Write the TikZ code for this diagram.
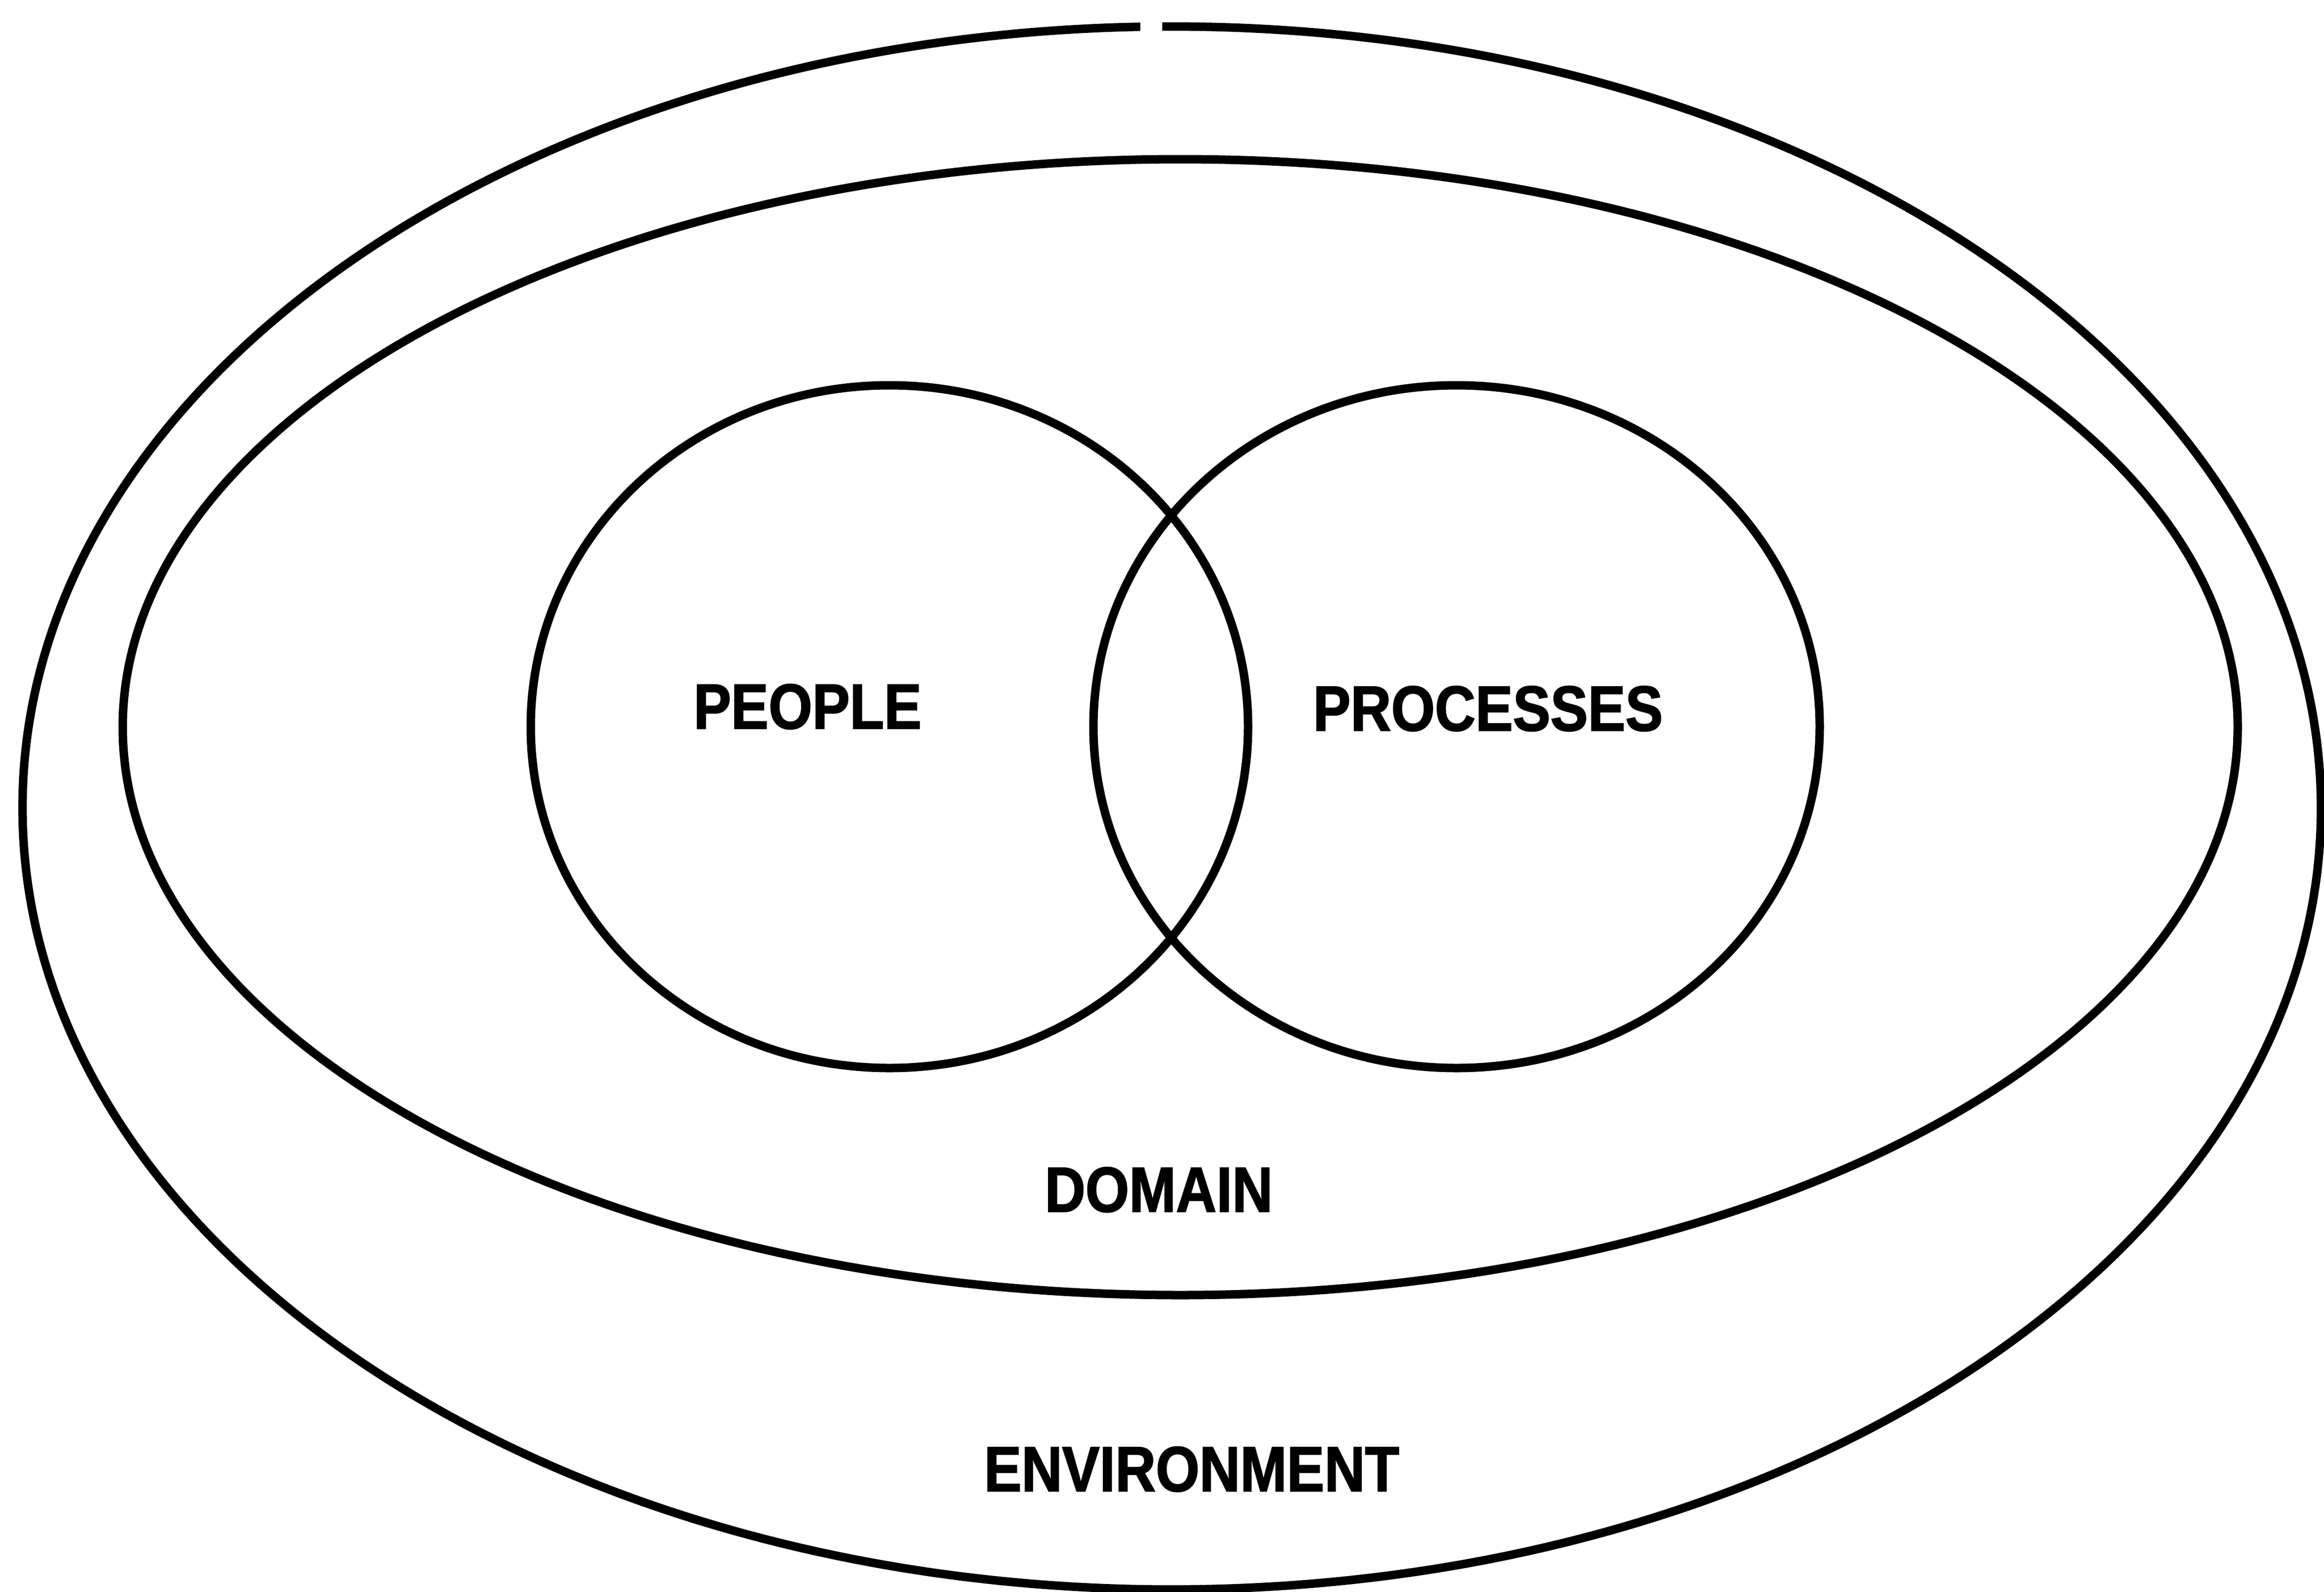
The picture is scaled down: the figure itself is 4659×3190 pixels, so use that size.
\documentclass[tikz,border=0pt]{standalone}
\usepackage{fontspec}
\newfontfamily\lblfont{Liberation Sans Bold}[FakeStretch=0.88,FakeBold=1.6]
\begin{document}
\begin{tikzpicture}[x=0.01cm,y=-0.01cm,
  outline/.style={line width=0.17cm,black},
  lbl/.style={font=\fontsize{36.4}{40}\lblfont,inner sep=0pt}]
\useasboundingbox (0,0) rectangle (4659,3190);
% environment (outer) with a small break at the top
\coordinate (envc) at (2349,1619);
\draw[outline] (envc) ++(91.57:2304 and -1566) arc[start angle=91.57,end angle=450.47,x radius=2304,y radius=-1566];
% domain
\coordinate (domc) at (2366,1457);
\draw[outline] (domc) ellipse[x radius=2120,y radius=1138];
% people and processes
\coordinate (pc) at (1783,1456);
\coordinate (qc) at (2920,1456);
\draw[outline] (pc) ellipse[x radius=719,y radius=684];
\draw[outline] (qc) ellipse[x radius=728,y radius=684];
\node[lbl] (people) at (1619,1416) {PEOPLE};
\node[lbl] (processes) at (2983,1420) {PROCESSES};
\node[lbl] (domain) at (2323,2384) {DOMAIN};
\node[lbl] (environment) at (2389,2944) {ENVIRONMENT};
\end{tikzpicture}
\end{document}
